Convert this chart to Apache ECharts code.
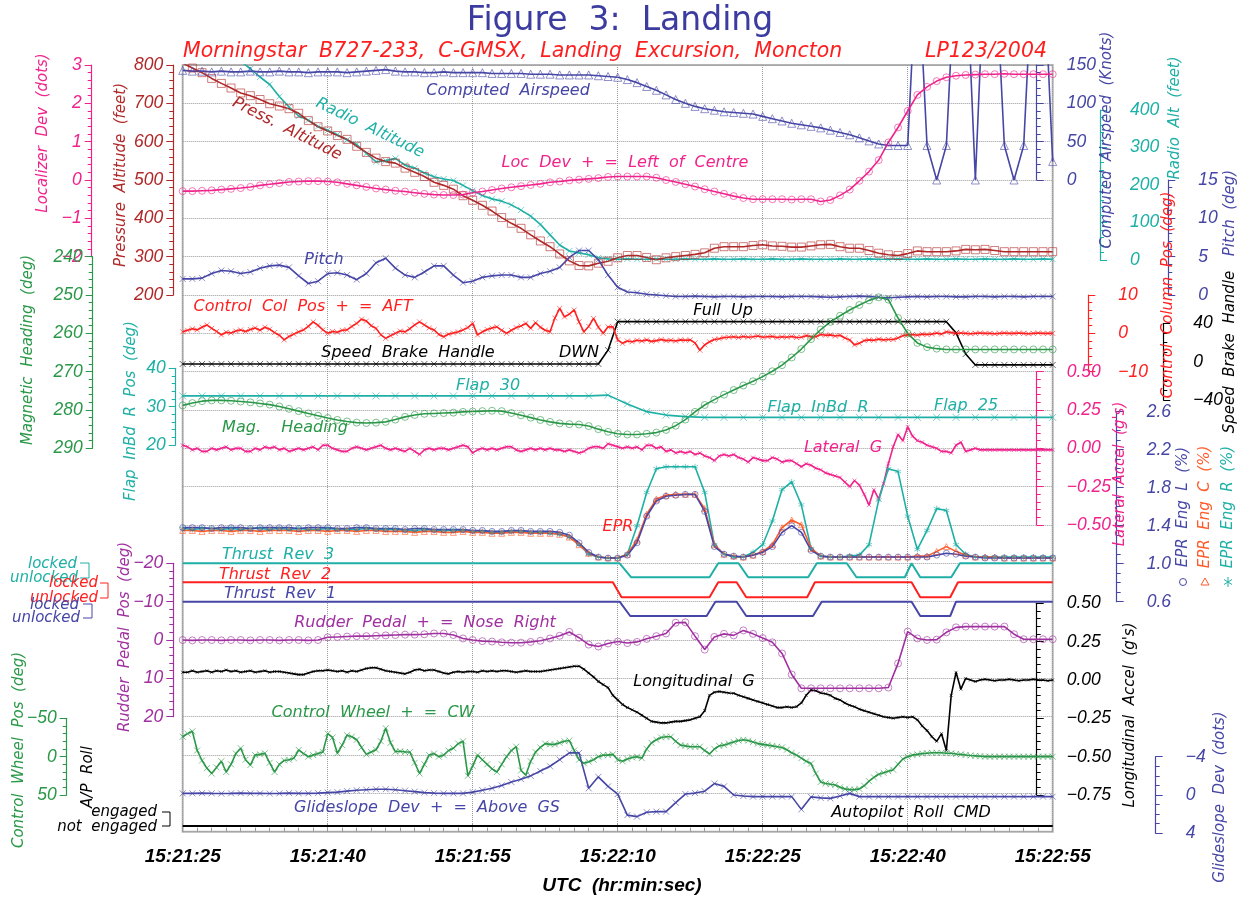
<!DOCTYPE html>
<html>
<head>
<meta charset="utf-8">
<title>Figure 3: Landing</title>
<script src="https://cdn.jsdelivr.net/npm/echarts@6/dist/echarts.min.js"></script>
<style>
  html, body { margin: 0; padding: 0; background: #fff; }
  #chart { width: 1241px; height: 901px; }
</style>
</head>
<body>
<div id="chart"></div>
<script>
// time axis: seconds after 15:21:25 UTC
var timeLabels = ['15:21:25', '15:21:40', '15:21:55', '15:22:10', '15:22:25', '15:22:40', '15:22:55'];

// ---- 1 s samples (t = 0..90) ----
var airspeedKts = [143,142,142,141,142,141,141,142,141,141,142,
  141,141,140,141,141,141,140,141,142,143,
  144,142,141,141,140,140,141,140,140,140,
  140,139,139,139,139,138,138,138,137,137,
  137,137,136,135,134,131,127,122,117,111,
  105,100,96,93,91,89,88,87,86,83,
  80,77,74,72,70,68,65,62,59,55,
  51,47,45,45,45,300,45,0,45,300,
  300,0,300,300,45,0,45,300,300,24];

var pressAltFt = [805,792,780,765,752,740,727,720,710,699,693,
  686,674,655,639,628,616,606,588,572,557,
  548,544,531,520,509,494,486,476,459,447,
  434,419,402,387,374,357,341,326,307,289,
  277,276,283,288,297,303,303,298,292,297,
  300,303,306,310,322,326,326,326,329,331,
  328,327,325,325,328,331,332,326,322,322,
  316,309,305,303,308,315,313,313,313,315,
  319,318,319,316,313,313,313,313,313,313];

var radioAltFt = [600,588,576,563,551,540,530,510,488,468,436,
  408,384,373,356,346,334,320,308,284,262,
  265,271,253,245,232,222,216,212,199,185,
  172,163,157,147,133,117,95,67,40,24,
  19,14,6,3,2,3,2,2,3,2,
  2,3,2,2,3,2,2,3,2,2,
  3,2,2,3,2,2,2,3,2,2,
  3,2,2,3,2,2,3,2,2,3,
  2,2,3,2,2,3,2,2,3,2];

var locDevDots = [-0.29,-0.29,-0.28,-0.27,-0.25,-0.23,-0.21,-0.18,-0.14,-0.11,-0.08,
  -0.05,-0.04,-0.03,-0.03,-0.04,-0.06,-0.1,-0.14,-0.18,-0.22,
  -0.25,-0.28,-0.3,-0.33,-0.36,-0.38,-0.39,-0.39,-0.38,-0.33,
  -0.3,-0.26,-0.22,-0.19,-0.16,-0.13,-0.1,-0.06,-0.04,-0.01,
  0.01,0.03,0.05,0.08,0.09,0.09,0.09,0.09,0.06,0.0,
  -0.05,-0.11,-0.17,-0.24,-0.3,-0.36,-0.42,-0.47,-0.5,-0.5,
  -0.5,-0.5,-0.51,-0.5,-0.5,-0.56,-0.52,-0.4,-0.25,-0.02,
  0.22,0.52,0.98,1.37,1.8,2.22,2.43,2.58,2.68,2.72,
  2.74,2.75,2.76,2.76,2.77,2.76,2.76,2.76,2.76,2.76];

var pitchDeg = [2.1,2.1,2.2,2.8,3.2,3.1,2.8,3.0,3.5,3.8,3.9,
  3.6,2.5,1.5,1.8,2.8,2.9,2.6,2.0,2.8,4.2,
  4.8,3.5,2.6,2.3,3.0,3.8,3.8,2.6,1.6,1.8,
  2.3,2.5,2.6,2.6,2.3,2.3,2.8,3.1,3.6,4.9,
  5.8,5.8,4.6,2.6,1.0,0.4,0.3,0.1,0.0,-0.1,
  -0.2,-0.2,-0.15,-0.2,-0.25,-0.2,-0.2,-0.25,-0.2,-0.2,
  -0.2,-0.25,-0.2,-0.2,-0.2,-0.25,-0.3,-0.25,-0.2,-0.15,
  -0.2,-0.3,-0.35,-0.3,-0.25,-0.2,-0.25,-0.2,-0.2,-0.25,
  -0.25,-0.2,-0.2,-0.25,-0.2,-0.2,-0.25,-0.2,-0.2,-0.2];

var speedBrake = [-2.4,-2.4,-2.4,-2.4,-2.4,-2.4,-2.4,-2.4,-2.4,-2.4,-2.4,
  -2.4,-2.4,-2.4,-2.4,-2.4,-2.4,-2.4,-2.4,-2.4,-2.4,
  -2.4,-2.4,-2.4,-2.4,-2.4,-2.4,-2.4,-2.4,-2.4,-2.4,
  -2.4,-2.4,-2.4,-2.4,-2.4,-2.4,-2.4,-2.4,-2.4,-2.4,
  -2.4,-2.4,-2.4,12,41.7,41.7,41.7,41.7,41.7,41.7,
  41.7,41.7,41.7,41.7,41.7,41.7,41.7,41.7,41.7,41.7,
  41.7,41.7,41.7,41.7,41.7,41.7,41.7,41.7,41.7,41.7,
  41.7,41.7,41.7,41.7,41.7,41.7,41.7,41.7,41.7,30,
  8,-3.4,-3.4,-3.4,-3.4,-3.4,-3.4,-3.4,-3.4,-3.4];

var magHdgDeg = [278.8,278.2,277.7,277.5,277.5,277.6,277.8,278.0,278.3,278.6,279.1,
  279.7,280.3,280.9,281.5,282.1,282.6,283.0,283.3,283.4,283.3,
  283.1,282.5,281.8,281.3,281.0,280.9,280.8,280.7,280.5,280.4,
  280.3,280.2,280.3,280.8,281.4,282.0,282.6,283.1,283.5,283.7,
  283.8,284.2,285.0,285.7,286.2,286.4,286.4,286.2,285.9,285.2,
  284.1,282.5,280.5,278.7,277.3,276.0,274.8,273.6,272.5,271.3,
  269.9,268.3,266.3,264.1,261.5,259.0,257.0,255.4,253.9,252.6,
  251.4,250.6,251.2,256.0,260.0,262.5,263.6,264.0,264.2,264.2,
  264.2,264.2,264.2,264.2,264.2,264.2,264.2,264.2,264.2,264.2];

var eprL = [1.38,1.38,1.38,1.37,1.38,1.38,1.38,1.37,1.38,1.38,1.38,
  1.38,1.37,1.38,1.38,1.38,1.37,1.37,1.38,1.38,1.37,
  1.37,1.37,1.36,1.37,1.37,1.36,1.36,1.36,1.36,1.35,
  1.35,1.34,1.34,1.35,1.35,1.34,1.34,1.34,1.33,1.30,
  1.22,1.12,1.07,1.06,1.06,1.09,1.22,1.50,1.66,1.71,
  1.72,1.73,1.73,1.55,1.18,1.10,1.08,1.07,1.09,1.12,
  1.18,1.33,1.40,1.33,1.14,1.08,1.07,1.07,1.07,1.07,
  1.07,1.07,1.07,1.07,1.07,1.07,1.07,1.09,1.11,1.10,
  1.08,1.07,1.06,1.06,1.06,1.06,1.06,1.06,1.06,1.06];

var eprC = [1.35,1.35,1.34,1.35,1.35,1.34,1.35,1.35,1.34,1.35,1.35,
  1.35,1.34,1.35,1.35,1.34,1.35,1.35,1.34,1.35,1.35,
  1.34,1.34,1.34,1.33,1.34,1.34,1.33,1.33,1.34,1.33,
  1.33,1.32,1.32,1.33,1.33,1.32,1.32,1.32,1.31,1.28,
  1.20,1.11,1.07,1.06,1.06,1.10,1.25,1.52,1.68,1.72,
  1.73,1.73,1.73,1.58,1.20,1.10,1.08,1.07,1.09,1.13,
  1.20,1.38,1.46,1.41,1.16,1.08,1.07,1.07,1.07,1.07,
  1.07,1.07,1.07,1.07,1.07,1.08,1.08,1.13,1.18,1.13,
  1.09,1.07,1.07,1.07,1.06,1.06,1.06,1.06,1.06,1.06];

var eprR = [1.37,1.36,1.37,1.37,1.36,1.37,1.36,1.37,1.37,1.36,1.37,
  1.36,1.37,1.36,1.36,1.37,1.36,1.36,1.36,1.37,1.36,
  1.36,1.36,1.35,1.35,1.36,1.35,1.35,1.35,1.35,1.34,
  1.34,1.33,1.33,1.34,1.34,1.33,1.33,1.32,1.31,1.28,
  1.20,1.10,1.07,1.06,1.06,1.10,1.40,1.75,2.00,2.02,
  2.02,2.02,2.02,1.75,1.20,1.10,1.07,1.07,1.12,1.20,
  1.45,1.78,1.86,1.62,1.16,1.08,1.07,1.07,1.08,1.09,
  1.20,1.67,2.00,1.97,1.50,1.15,1.35,1.58,1.56,1.20,
  1.10,1.07,1.07,1.07,1.07,1.07,1.07,1.07,1.07,1.07];

var rudderDeg = [0.0,0.1,0.0,0.0,0.1,0.0,0.0,0.1,0.0,0.0,0.1,
  0.0,0.0,0.1,0.0,-0.7,-0.8,-0.9,-1.0,-1.0,-1.1,
  -1.2,-1.3,-1.4,-1.4,-1.5,-1.7,-1.7,-1.3,-0.4,0.0,
  0.3,0.4,0.6,0.7,0.7,0.5,0.2,-0.4,-1.1,-2.1,
  -0.6,1.2,1.7,0.9,0.4,0.8,0.5,-0.3,-1.0,-1.7,
  -4.5,-4.6,-1.0,2.5,-0.8,-1.6,-1.2,-2.5,-1.6,-0.5,
  0.6,3.5,9.0,12.6,12.6,12.6,12.6,12.6,12.6,12.6,
  12.6,12.6,12.4,6.1,-2.2,-0.4,0.0,-0.1,-2.0,-3.3,
  -3.5,-3.5,-3.5,-3.5,-3.5,-1.5,-0.2,-0.2,-0.2,-0.2];

var glideDevDots = [-0.17,-0.17,-0.2,-0.17,-0.15,-0.17,-0.2,-0.17,-0.17,-0.15,-0.17,
  -0.2,-0.17,-0.17,-0.2,-0.25,-0.3,-0.4,-0.5,-0.55,-0.6,
  -0.6,-0.55,-0.45,-0.35,-0.25,-0.2,-0.17,-0.17,-0.17,-0.3,
  -0.5,-0.7,-1.0,-1.35,-1.65,-2.0,-2.5,-3.0,-3.7,-4.4,
  -4.4,-0.7,-1.9,-0.9,-0.1,2.1,2.26,1.8,1.74,1.74,
  0.8,-0.1,-0.2,-0.4,-1.2,-0.9,0.0,0.1,0.17,0.17,
  0.17,0.17,0.17,1.5,0.2,0.3,0.35,0.1,-0.17,0.17,
  0.17,0.17,0.17,0.17,0.17,0.17,0.17,0.17,0.17,0.17,
  0.17,0.17,0.17,0.17,0.17,0.17,0.17,0.17,0.17,0.17];

// ---- 0.5 s samples (t = 0..90) ----
var ctrlColDeg = [0.4,0.8,1.2,0.9,1.6,2.2,1.3,0.5,-0.4,0.3,
  0.1,0.6,0.9,0.5,1.0,1.4,0.8,1.6,1.1,0.2,
  -0.5,-1.7,-0.8,-0.2,0.4,0.9,1.8,3.0,2.1,0.9,
  0.0,0.5,0.3,0.8,0.9,1.8,2.6,3.7,3.2,2.0,
  1.3,-0.4,-1.3,-0.6,0.0,0.6,0.4,1.2,2.2,3.0,
  2.2,1.4,0.9,-0.3,-0.9,-0.2,0.1,0.4,0.9,1.5,
  2.6,-0.4,0.4,1.0,1.4,1.7,0.8,0.0,0.8,1.5,
  1.9,2.6,1.3,2.8,1.6,0.8,0.4,4.0,6.5,4.3,
  5.0,6.1,3.0,0.4,1.8,3.9,1.6,0.0,1.7,1.7,
  -1.7,-2.6,-2.0,-2.2,-1.8,-2.0,-1.7,-2.1,-1.9,-1.6,
  -1.9,-1.8,-2.0,-1.7,-1.8,-1.7,-2.5,-4.4,-3.0,-2.2,
  -1.6,-1.4,-1.1,-1.0,-0.9,-1.1,-0.8,-1.0,-0.9,-0.7,
  -1.0,-0.9,-0.8,-1.1,-0.9,-1.0,-0.8,-1.1,-1.0,-0.6,
  -0.9,-0.9,-0.3,-0.5,-0.4,-0.7,-0.5,-1.2,-1.7,-3.0,
  -2.6,-1.9,-1.7,-1.8,-1.5,-1.7,-1.6,-1.6,-1.2,-0.6,
  -0.4,-0.3,-0.5,-0.2,-0.3,-0.2,0.1,-0.2,0.4,0.2,
  0.0,0.1,0.0,-0.1,0.0,0.1,0.0,0.0,-0.1,0.0,
  0.1,0.0,0.0,0.1,0.0,-0.1,0.0,0.1,0.0,0.0,
  0.0];

var lateralG = [0.02,0.01,-0.01,0.0,-0.02,-0.02,0.0,-0.01,0.0,0.01,
  -0.01,0.0,0.0,-0.02,-0.02,0.0,-0.01,0.01,0.0,0.01,
  -0.01,0.0,-0.02,-0.01,0.0,-0.01,0.0,0.01,-0.01,0.02,
  0.02,0.0,-0.01,-0.02,-0.02,0.0,0.01,0.0,-0.01,0.0,
  0.01,0.02,0.0,-0.01,0.0,-0.01,-0.02,0.0,-0.02,-0.04,
  -0.01,0.0,-0.01,0.0,0.0,-0.01,0.0,0.01,0.02,0.01,
  -0.03,-0.01,0.0,-0.01,0.0,-0.01,0.0,0.01,0.01,-0.01,
  -0.02,-0.01,0.0,-0.01,0.0,-0.01,0.0,-0.01,-0.01,-0.02,
  -0.01,-0.02,-0.03,-0.02,0.0,0.01,0.01,0.0,0.03,0.02,
  0.01,0.0,0.01,0.0,0.01,-0.01,0.02,0.02,0.0,0.01,
  -0.02,-0.01,-0.03,-0.02,-0.03,-0.02,-0.04,-0.03,-0.05,-0.06,
  -0.08,-0.05,-0.04,-0.05,-0.04,-0.06,-0.07,-0.09,-0.06,-0.07,
  -0.08,-0.08,-0.06,-0.07,-0.09,-0.08,-0.08,-0.1,-0.12,-0.1,
  -0.11,-0.13,-0.14,-0.16,-0.17,-0.18,-0.19,-0.22,-0.25,-0.21,
  -0.24,-0.3,-0.37,-0.27,-0.33,-0.23,-0.1,0.01,0.09,0.05,
  0.14,0.08,0.05,0.04,0.02,0.01,0.0,-0.02,-0.02,-0.03,
  0.02,0.04,-0.02,-0.01,0.0,-0.01,-0.01,-0.01,-0.01,-0.01,
  -0.01,-0.01,-0.01,-0.01,-0.01,-0.01,-0.01,-0.01,-0.01,-0.01,
  -0.01];

var longG = [0.05,0.05,0.06,0.05,0.055,0.06,0.05,0.06,0.055,0.065,
  0.055,0.06,0.05,0.055,0.06,0.05,0.055,0.06,0.05,0.055,
  0.055,0.05,0.045,0.04,0.035,0.035,0.045,0.055,0.06,0.06,
  0.065,0.06,0.055,0.06,0.05,0.06,0.055,0.065,0.075,0.08,
  0.08,0.07,0.06,0.055,0.05,0.045,0.04,0.05,0.065,0.07,
  0.06,0.065,0.065,0.055,0.045,0.04,0.05,0.055,0.05,0.055,
  0.055,0.05,0.06,0.055,0.06,0.055,0.06,0.06,0.055,0.05,
  0.055,0.06,0.055,0.055,0.055,0.06,0.065,0.07,0.075,0.08,
  0.085,0.09,0.09,0.07,0.045,0.02,-0.01,-0.03,-0.05,-0.1,
  -0.13,-0.16,-0.18,-0.195,-0.21,-0.23,-0.25,-0.27,-0.275,-0.28,
  -0.28,-0.275,-0.27,-0.27,-0.265,-0.26,-0.25,-0.24,-0.2,-0.1,
  -0.08,-0.075,-0.08,-0.085,-0.087,-0.1,-0.11,-0.12,-0.13,-0.14,
  -0.15,-0.16,-0.17,-0.18,-0.18,-0.175,-0.18,-0.174,-0.15,-0.1,
  -0.065,-0.07,-0.085,-0.09,-0.1,-0.12,-0.13,-0.15,-0.165,-0.175,
  -0.19,-0.2,-0.21,-0.22,-0.23,-0.24,-0.245,-0.25,-0.245,-0.24,
  -0.245,-0.24,-0.26,-0.3,-0.33,-0.37,-0.4,-0.35,-0.46,-0.1,
  0.05,-0.06,0.01,0.0,-0.01,0.0,0.005,0.0,-0.005,0.0,
  0.0,0.005,0.0,-0.005,0.0,0.0,0.005,0.0,0.0,-0.005,
  0.0];

var ctrlWheelDeg = [-26,-30,-33,-8,5,15,22,14,6,20,
  10,-4,-11,4,11,-2,-3,-4.4,8,20,
  10,5,4,2,-8.7,-4,0,-2,-4,-6,
  -30,-25,-4.4,-15,-28,-26,-22,-12,-3,-6,
  -9,-20,-37,-18,-6.5,-7,-6,-6,8,22,
  10,-2,-4,0,-2,-8,-11,-17,-20,25,
  12,-2,4,10,16,20,10,0,-8,-13,
  18,24,6,-6,-12,-17,-16,-16,-18,-20,
  -21,-8,4,8.7,6.5,4,0,-2,-2,-3,
  4,6,3,1,0,2,-10,-18,-22,-25,
  -26,-26,-20,-15,-14,-13,-13,-13,-8,-3.5,
  -10,-14,-15,-17,-19,-21,-22,-21,-19,-17,
  -16,-15,-14,-13,-12,-9,-5,-2,2,6,
  9,22,33,35,36,37,40,42,43,43,
  42,38,32,27,23,21,19,17,10,3,
  0,-2,-3,-4,-4.5,-5,-5,-5,-4.5,-4.4,
  -3.5,-3,-2.2,-1.5,-1,-0.5,0,0,0,0,
  0,0,0,0,0,0,0,0,0,0,
  0];

// ---- 2 s samples (t = 0..90) ----
var flapDeg = [32.8,32.8,32.8,32.8,32.8,32.8,32.8,32.8,32.8,32.8,
  32.8,32.8,32.8,32.8,32.8,32.8,32.8,32.8,32.8,32.8,
  32.8,32.8,33.0,30.7,28.7,27.8,27.4,27.2,27.2,27.2,
  27.2,27.2,27.2,27.2,27.2,27.2,27.2,27.2,27.2,27.2,
  27.2,27.2,27.2,27.2,27.2,27.2];

// ---- discrete states (1 = locked / engaged) ----
var rev3Times = [0,45.2,46.4,54.5,55.4,57.5,58.5,64.7,65.6,68.7,69.7,74.7,75.4,76.3,79.5,80.4,90];
var rev3State = [1,1,0,0,1,1,0,0,1,1,0,0,1,0,0,1,1];
var rev2Times = [0,44.5,45.4,54.5,55.4,57.3,58.3,64.6,65.4,75.4,76.3,79.4,80.2,90];
var rev2State = [1,1,0,0,1,1,0,0,1,1,0,0,1,1];
var rev1Times = [0,45.2,46.3,54.2,55.1,57.3,58.3,65.2,66.1,75.4,76.3,79.4,80,90];
var rev1State = [1,1,0,0,1,1,0,0,1,1,0,0,1,1];
var apTimes = [0,90];
var apState = [0,0];

// ------------------------------------------------------------------
var chart = echarts.init(document.getElementById('chart'));
var FONT = '"Liberation Sans", Arial, sans-serif';     // tick labels
var TFONT = '"DejaVu Sans", Verdana, sans-serif';      // captions, wider like the original
var C = {
  blue: '#4646a6', pink: '#f0238c', darkRed: '#b02828', teal: '#1eb0a6',
  red: '#ff2020', green: '#2a9848', orange: '#ff5a28', purple: '#a030a0', black: '#000000'
};

// plot frame (px)
var PLOT = { left: 182.7, top: 65, width: 870, height: 766.67 };

// each scale: value/pixel anchor at top and bottom of its visible axis
var scales = {
  loc:      { side: 'left',  x: 91.7,   top: [3, 65],      bot: [-2, 256.7],  step: 1,    dec: 0, minor: 5, color: C.pink },
  press:    { side: 'left',  x: 173.3,  top: [800, 65],    bot: [200, 295],   step: 100,  dec: 0, minor: 5, color: C.darkRed },
  mag:      { side: 'left',  x: 92.7,   top: [240, 256.7], bot: [290, 448.3], step: 10,   dec: 0, minor: 5, color: C.green },
  flap:     { side: 'left',  x: 175.7,  top: [40, 368.3],  bot: [20, 445],    step: 10,   dec: 0, minor: 5, color: C.teal },
  rudder:   { side: 'left',  x: 173.3,  top: [-20, 563.3], bot: [20, 716.7],  step: 10,   dec: 0, minor: 5, color: C.purple },
  wheel:    { side: 'left',  x: 66.7,   top: [-50, 718.3], bot: [50, 795],    step: 50,   dec: 0, minor: 5, color: C.green },
  airspeed: { side: 'right', x: 1056.7, top: [150, 65],    bot: [0, 180],     step: 50,   dec: 0, minor: 5, color: C.blue },
  radio:    { side: 'right', x: 1120,   top: [400, 110],   bot: [0, 260],     step: 100,  dec: 0, minor: 5, color: C.teal },
  pitch:    { side: 'right', x: 1188.3, top: [15, 180],    bot: [0, 295],     step: 5,    dec: 0, minor: 5, color: C.blue },
  col:      { side: 'right', x: 1108.3, top: [10, 295],    bot: [-10, 371.7], step: 10,   dec: 0, minor: 5, color: C.red },
  brake:    { side: 'right', x: 1183.3, top: [40, 323.3],  bot: [-40, 400],   step: 40,   dec: 0, minor: 4, color: C.black },
  latg:     { side: 'right', x: 1056.7, top: [0.5, 371.7], bot: [-0.5, 525],  step: 0.25, dec: 2, minor: 5, color: C.pink },
  epr:      { side: 'right', x: 1136.7, top: [2.6, 411.7], bot: [0.6, 601.7], step: 0.4,  dec: 1, minor: 4, color: C.blue },
  longg:    { side: 'right', x: 1056.7, top: [0.5, 603.3], bot: [-0.75, 795], step: 0.25, dec: 2, minor: 5, color: C.black },
  gs:       { side: 'right', x: 1175.7, top: [-4, 756.7],  bot: [4, 833.3],   step: 4,    dec: 0, minor: 4, color: C.blue },
  rev3:     { top: [1, 563.3], bot: [0, 577.3] },
  rev2:     { top: [1, 582.3], bot: [0, 597.3] },
  rev1:     { top: [1, 601.7], bot: [0, 616] },
  ap:       { top: [1, 811.7], bot: [0, 826] }
};

// extend a scale over the whole plot frame
function fit(s) {
  var vT = s.top[0], yT = s.top[1], vB = s.bot[0], yB = s.bot[1];
  var k = (vB - vT) / (yB - yT);
  var a = vT - (yT - PLOT.top) * k;
  var b = vB + (PLOT.top + PLOT.height - yB) * k;
  return a > b ? { min: b, max: a, inverse: false } : { min: a, max: b, inverse: true };
}

function fmt(dec) {
  return function (v) {
    if (Math.abs(v) < 1e-9) v = 0;
    return v.toFixed(dec).replace('-', '\u2212');
  };
}

var grids = [{
  left: PLOT.left, top: PLOT.top, width: PLOT.width, height: PLOT.height,
  show: true, borderColor: '#b4b4b4', borderWidth: 2, outerBoundsMode: 'none'
}];
var xAxes = [{
  gridIndex: 0, type: 'value', min: 0, max: 90, interval: 15,
  axisLine: { show: false },
  axisTick: { show: true, inside: true, length: 8, lineStyle: { color: '#999' } },
  minorTick: { show: true, splitNumber: 10, length: 4, lineStyle: { color: '#999' } },
  axisLabel: {
    margin: 16, color: '#000', fontSize: 19, fontStyle: 'italic', fontWeight: 'bold', fontFamily: FONT,
    formatter: function (v) { return timeLabels[Math.round(v / 15)]; }
  },
  splitLine: { show: true, lineStyle: { color: '#9a9a9a', type: 'dotted', width: 1 } }
}];
var yAxes = [{
  gridIndex: 0, type: 'value', min: 0, max: 20, interval: 1,
  axisLine: { show: false }, axisTick: { show: false }, axisLabel: { show: false },
  splitLine: { show: true, lineStyle: { color: '#9a9a9a', type: 'dotted', width: 1 } }
}];

var dataAxis = {};
Object.keys(scales).forEach(function (key) {
  var s = scales[key], f = fit(s);
  dataAxis[key] = yAxes.length;
  yAxes.push({ gridIndex: 0, type: 'value', show: false, min: f.min, max: f.max, inverse: f.inverse });
});

// visible axes, each in its own narrow grid
Object.keys(scales).forEach(function (key) {
  var s = scales[key];
  if (!s.side) return;
  var gi = grids.length;
  grids.push({
    left: s.side === 'left' ? s.x : s.x - 20, top: s.top[1], width: 20,
    height: s.bot[1] - s.top[1], outerBoundsMode: 'none'
  });
  xAxes.push({ gridIndex: gi, type: 'value', show: false, min: 0, max: 1 });
  yAxes.push({
    gridIndex: gi, type: 'value', position: s.side,
    min: Math.min(s.top[0], s.bot[0]), max: Math.max(s.top[0], s.bot[0]),
    inverse: s.top[0] < s.bot[0], interval: s.step,
    axisLine: { show: true, lineStyle: { color: s.color, width: 1.2 } },
    axisTick: { show: true, length: 7, lineStyle: { color: s.color } },
    minorTick: { show: true, splitNumber: s.minor, length: 4, lineStyle: { color: s.color } },
    axisLabel: { color: s.color, fontSize: 17.5, fontStyle: 'italic', fontFamily: FONT, margin: 10, formatter: fmt(s.dec) },
    splitLine: { show: false }
  });
});

var SYM = {
  x: 'path://M0,0L10,10M10,0L0,10',
  star: 'path://M5,0L5,10M0,2.5L10,7.5M10,2.5L0,7.5',
  tri: 'path://M5,0L10,9L0,9Z',
  rect: 'rect',
  circle: 'circle',
  none: 'none'
};

function sampled(values, step) {
  return values.map(function (v, i) { return [i * step, v]; });
}
function paired(times, vals) {
  return times.map(function (t, i) { return [t, vals[i]]; });
}

var seriesDefs = [
  { key: 'radio',    data: sampled(radioAltFt, 1),     color: C.teal,    sym: 'x',      size: 6 },
  { key: 'press',    data: sampled(pressAltFt, 1),     color: C.darkRed, sym: 'rect',   size: 8 },
  { key: 'airspeed', data: sampled(airspeedKts, 1),    color: C.blue,    sym: 'tri',    size: 8 },
  { key: 'loc',      data: sampled(locDevDots, 1),     color: C.pink,    sym: 'circle', size: 7 },
  { key: 'pitch',    data: sampled(pitchDeg, 1),       color: C.blue,    sym: 'x',      size: 6 },
  { key: 'brake',    data: sampled(speedBrake, 1),     color: C.black,   sym: 'x',      size: 6 },
  { key: 'col',      data: sampled(ctrlColDeg, 0.5),   color: C.red,     sym: 'x',      size: 5 },
  { key: 'mag',      data: sampled(magHdgDeg, 1),      color: C.green,   sym: 'circle', size: 7 },
  { key: 'flap',     data: sampled(flapDeg, 2),        color: C.teal,    sym: 'x',      size: 7 },
  { key: 'latg',     data: sampled(lateralG, 0.5),     color: C.pink,    sym: 'x',      size: 4 },
  { key: 'epr',      data: sampled(eprR, 1),           color: C.teal,    sym: 'star',   size: 6 },
  { key: 'epr',      data: sampled(eprC, 1),           color: C.orange,  sym: 'tri',    size: 6 },
  { key: 'epr',      data: sampled(eprL, 1),           color: C.blue,    sym: 'circle', size: 6 },
  { key: 'rev3',     data: paired(rev3Times, rev3State), color: C.teal,  sym: 'none',   size: 0, width: 2 },
  { key: 'rev2',     data: paired(rev2Times, rev2State), color: C.red,   sym: 'none',   size: 0, width: 2 },
  { key: 'rev1',     data: paired(rev1Times, rev1State), color: C.blue,  sym: 'none',   size: 0, width: 2 },
  { key: 'rudder',   data: sampled(rudderDeg, 1),      color: C.purple,  sym: 'circle', size: 7 },
  { key: 'longg',    data: sampled(longG, 0.5),        color: C.black,   sym: 'x',      size: 3 },
  { key: 'wheel',    data: sampled(ctrlWheelDeg, 0.5), color: C.green,   sym: 'x',      size: 6 },
  { key: 'gs',       data: sampled(glideDevDots, 1),   color: C.blue,    sym: 'x',      size: 6 },
  { key: 'ap',       data: paired(apTimes, apState),   color: C.black,   sym: 'none',   size: 0, width: 2 }
];

var series = seriesDefs.map(function (d) {
  return {
    type: 'line', xAxisIndex: 0, yAxisIndex: dataAxis[d.key], data: d.data,
    symbol: SYM[d.sym], symbolSize: d.size, showSymbol: d.sym !== 'none',
    lineStyle: { color: d.color, width: d.width || 1.6 },
    itemStyle: { color: 'rgba(0,0,0,0)', borderColor: echarts.color.modifyAlpha(d.color, 0.6), borderWidth: 1 },
    silent: true, animation: false, clip: true
  };
});

// ---- text ----
function txt(t, x, y, color, size, opts) {
  opts = opts || {};
  return {
    type: 'text', x: x, y: y, rotation: opts.rot || 0, z: 50, silent: true,
    style: {
      text: t, fill: color, fontSize: size, fontFamily: opts.font || TFONT,
      fontStyle: opts.upright ? 'normal' : 'italic', fontWeight: opts.bold ? 'bold' : 'normal',
      align: opts.align || 'center', verticalAlign: 'middle'
    }
  };
}
var V = Math.PI / 2;
var graphics = [
  txt('Figure  3:  Landing', 620, 21, '#3c3ca0', 33, { upright: true }),
  txt('Morningstar  B727-233,  C-GMSX,  Landing  Excursion,  Moncton', 183, 52, '#ff1e1e', 20.5, { align: 'left' }),
  txt('LP123/2004', 1047, 52, '#ff1e1e', 20.5, { align: 'right' }),
  txt('UTC  (hr:min:sec)', 622, 886, '#000', 19, { bold: true, font: FONT }),

  txt('Computed  Airspeed', 508, 91, C.blue, 16),
  txt('Radio  Altitude', 370, 128, C.teal, 16, { rot: -0.45 }),
  txt('Press.  Altitude', 287, 129, C.darkRed, 16, { rot: -0.47 }),
  txt('Loc  Dev  +  =  Left  of  Centre', 625, 163, C.pink, 16),
  txt('Pitch', 324, 260, C.blue, 16),
  txt('Control  Col  Pos  +  =  AFT', 303, 307, C.red, 16),
  txt('Full  Up', 723, 311, C.black, 16),
  txt('Speed  Brake  Handle', 408, 353, C.black, 16),
  txt('DWN', 579, 353, C.black, 16),
  txt('Flap  30', 488, 386, C.teal, 16),
  txt('Flap  InBd  R', 818, 408, C.teal, 16),
  txt('Flap  25', 966, 406, C.teal, 16),
  txt('Mag.    Heading', 285, 428, C.green, 16),
  txt('Lateral  G', 843, 448, C.pink, 16),
  txt('EPR', 618, 527, C.red, 16),
  txt('Thrust  Rev  3', 278, 555, C.teal, 16),
  txt('Thrust  Rev  2', 275, 575, C.red, 16),
  txt('Thrust  Rev  1', 280, 594, C.blue, 16),
  txt('Rudder  Pedal  +  =  Nose  Right', 425, 623, C.purple, 16),
  txt('Longitudinal  G', 694, 682, C.black, 16),
  txt('Control  Wheel  +  =  CW', 373, 713, C.green, 16),
  txt('Glideslope  Dev  +  =  Above  GS', 427, 808, C.blue, 16),
  txt('Autopilot  Roll  CMD', 911, 813, C.black, 16),

  txt('Localizer  Dev  (dots)', 43, 133, C.pink, 15, { rot: V }),
  txt('Magnetic  Heading  (deg)', 28, 350, C.green, 15, { rot: V }),
  txt('Pressure  Altitude  (feet)', 121, 175, C.darkRed, 15, { rot: V }),
  txt('Flap  InBd  R  Pos  (deg)', 131, 411, C.teal, 15, { rot: V }),
  txt('Rudder  Pedal  Pos  (deg)', 125, 637, C.purple, 15, { rot: V }),
  txt('Control  Wheel  Pos  (deg)', 19, 750, C.green, 15, { rot: V }),
  txt('A/P  Roll', 88, 777, C.black, 15, { rot: V }),
  txt('Computed  Airspeed  (Knots)', 1107, 140, C.blue, 15, { rot: V }),
  txt('Radio  Alt  (feet)', 1175, 118, C.teal, 15, { rot: V }),
  txt('Pitch  (deg)', 1230, 213, C.blue, 15, { rot: V }),
  txt('Control  Column  Pos  (deg)', 1168, 295, C.red, 15, { rot: V }),
  txt('Speed  Brake  Handle', 1230, 352, C.black, 15, { rot: V }),
  txt('Lateral  Accel  (g\'s)', 1120, 474, C.pink, 15, { rot: V }),
  txt('EPR  Eng  L  (%)', 1183, 507, C.blue, 15, { rot: V }),
  txt('EPR  Eng  C  (%)', 1205, 507, C.orange, 15, { rot: V }),
  txt('EPR  Eng  R  (%)', 1228, 507, C.teal, 15, { rot: V }),
  txt('Longitudinal  Accel  (g\'s)', 1130, 715, C.black, 15, { rot: V }),
  txt('Glideslope  Dev  (dots)', 1220, 797, C.blue, 15, { rot: V }),

  txt('locked', 77, 564, C.teal, 15, { align: 'right' }),
  txt('unlocked', 78, 578, C.teal, 15, { align: 'right' }),
  txt('locked', 98, 583, C.red, 15, { align: 'right' }),
  txt('unlocked', 98, 598, C.red, 15, { align: 'right' }),
  txt('locked', 79, 605, C.blue, 15, { align: 'right' }),
  txt('unlocked', 80, 618, C.blue, 15, { align: 'right' }),
  txt('engaged', 157, 812, C.black, 15, { align: 'right' }),
  txt('not  engaged', 157, 827, C.black, 15, { align: 'right' })
];

// brackets tying the state labels together
[
  { pts: [[80, 563], [89, 563], [89, 578], [80, 578]], c: C.teal },
  { pts: [[100, 583], [108, 583], [108, 598], [100, 598]], c: C.red },
  { pts: [[83, 604], [92, 604], [92, 618], [83, 618]], c: C.blue },
  { pts: [[162, 812], [170, 812], [170, 826], [162, 826]], c: C.black }
].forEach(function (b) {
  graphics.push({ type: 'polyline', silent: true, shape: { points: b.pts }, style: { stroke: b.c, lineWidth: 1, fill: null } });
});

// EPR legend symbols
graphics.push({ type: 'circle', silent: true, shape: { cx: 1183, cy: 582, r: 3.5 }, style: { stroke: C.blue, fill: null, lineWidth: 1 } });
graphics.push({ type: 'polygon', silent: true, shape: { points: [[1205, 578], [1209, 585], [1201, 585]] }, style: { stroke: C.orange, fill: null, lineWidth: 1 } });
graphics.push({ type: 'polyline', silent: true, shape: { points: [[1228, 577], [1228, 587]] }, style: { stroke: C.teal, lineWidth: 1 } });
graphics.push({ type: 'polyline', silent: true, shape: { points: [[1224, 579.5], [1232, 584.5]] }, style: { stroke: C.teal, lineWidth: 1 } });
graphics.push({ type: 'polyline', silent: true, shape: { points: [[1232, 579.5], [1224, 584.5]] }, style: { stroke: C.teal, lineWidth: 1 } });

chart.setOption({
  backgroundColor: '#ffffff',
  animation: false,
  grid: grids,
  xAxis: xAxes,
  yAxis: yAxes,
  series: series,
  graphic: graphics
});
</script>
</body>
</html>
